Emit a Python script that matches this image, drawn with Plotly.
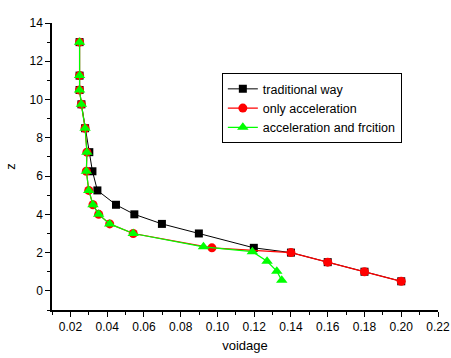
import plotly.graph_objects as go

z_trad = [13, 11.25, 10.5, 9.75, 8.5, 7.25, 6.25, 5.25, 4.5, 4.0, 3.5, 3.0, 2.25, 2.0, 1.5, 1.0, 0.5]
x_trad = [0.025, 0.025, 0.025, 0.026, 0.028, 0.0303, 0.032, 0.0347, 0.0448, 0.0548, 0.0698, 0.0899, 0.1198, 0.14, 0.16, 0.18, 0.20]

z_acc = [13, 11.25, 10.5, 9.75, 8.5, 7.25, 6.25, 5.25, 4.5, 4.0, 3.5, 3.0, 2.25, 2.0, 1.5, 1.0, 0.5]
x_acc = [0.025, 0.025, 0.025, 0.026, 0.028, 0.029, 0.0287, 0.030, 0.0323, 0.0354, 0.0414, 0.0542, 0.097, 0.14, 0.16, 0.18, 0.20]

z_fric = [13, 11.25, 10.5, 9.75, 8.5, 7.25, 6.25, 5.25, 4.5, 4.0, 3.5, 3.0, 2.3, 2.05, 1.55, 1.03, 0.55]
x_fric = [0.025, 0.025, 0.025, 0.026, 0.028, 0.029, 0.0287, 0.030, 0.0323, 0.0354, 0.0414, 0.0542, 0.0924, 0.119, 0.127, 0.1323, 0.135]

FONT = "Liberation Sans, Arial, sans-serif"

fig = go.Figure()
fig.add_trace(go.Scatter(x=x_trad, y=z_trad, mode="lines+markers", name="traditional way",
                         line=dict(color="black", width=1),
                         marker=dict(symbol="square", size=8, color="black")))
fig.add_trace(go.Scatter(x=x_acc, y=z_acc, mode="lines+markers", name="only acceleration",
                         line=dict(color="red", width=1.2),
                         marker=dict(symbol="circle", size=9, color="red")))
fig.add_trace(go.Scatter(x=x_fric, y=z_fric, mode="lines+markers", name="acceleration and frcition",
                         line=dict(color="#00ff00", width=1.2),
                         marker=dict(symbol="triangle-up", size=10, color="#00ff00")))

axis_common = dict(showline=True, linecolor="black", linewidth=1.5, ticks="outside",
                   ticklen=5, tickwidth=1, tickcolor="black", showgrid=False, zeroline=False,
                   mirror=False, automargin=False,
                   tickfont=dict(family=FONT, size=12, color="black"))

fig.update_xaxes(range=[0.01, 0.22], tick0=0.02, dtick=0.02, tickformat=".2f",
                 minor=dict(ticks="outside", ticklen=3, dtick=0.01, tick0=0.01, tickcolor="black"),
                 title=dict(text="voidage", font=dict(family=FONT, size=13, color="black"), standoff=8),
                 **axis_common)
fig.update_yaxes(range=[-1, 14], tick0=0, dtick=2,
                 minor=dict(ticks="outside", ticklen=3, dtick=1, tick0=0, tickcolor="black"),
                 title=dict(text="z", font=dict(family=FONT, size=13, color="black"), standoff=11),
                 **axis_common)

fig.update_layout(
    width=451, height=358,
    margin=dict(l=52, r=13, t=23, b=48),
    paper_bgcolor="white", plot_bgcolor="white",
    font=dict(family=FONT, color="black"),
    legend=dict(x=0.44, y=0.825, xanchor="left", yanchor="top",
                bgcolor="white", bordercolor="black", borderwidth=1,
                font=dict(family=FONT, size=12.5, color="black"),
                tracegroupgap=0, itemsizing="trace", itemwidth=30),
)

fig.write_html("out.html")
